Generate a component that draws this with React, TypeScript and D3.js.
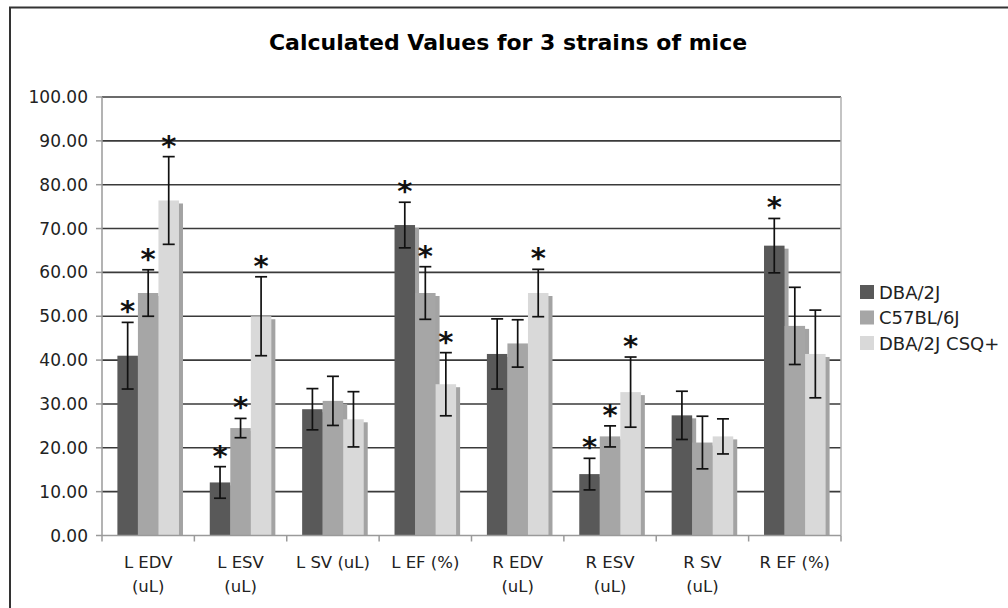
import React, { useEffect, useRef } from 'react';
import * as d3 from 'd3';

// categories and series
const categories = [
  ['L EDV', '(uL)'],
  ['L ESV', '(uL)'],
  ['L SV (uL)'],
  ['L EF (%)'],
  ['R EDV', '(uL)'],
  ['R ESV', '(uL)'],
  ['R SV', '(uL)'],
  ['R EF (%)'],
];
const seriesNames = ['DBA/2J', 'C57BL/6J', 'DBA/2J CSQ+'];

const dbaValues = [41.0, 12.1, 28.8, 70.8, 41.4, 14.0, 27.4, 66.1];
const dbaErrors = [7.6, 3.6, 4.7, 5.2, 8.0, 3.6, 5.5, 6.2];
const dbaSig = [true, true, false, true, false, true, false, true];

const c57Values = [55.3, 24.5, 30.7, 55.3, 43.8, 22.6, 21.2, 47.8];
const c57Errors = [5.3, 2.2, 5.6, 6.0, 5.4, 2.4, 6.0, 8.8];
const c57Sig = [true, true, false, true, false, true, false, false];

const csqValues = [76.4, 50.0, 26.5, 34.5, 55.3, 32.7, 22.6, 41.4];
const csqErrors = [10.0, 9.0, 6.3, 7.2, 5.4, 8.0, 4.0, 10.0];
const csqSig = [true, true, false, true, true, true, false, false];

const yTicks = [0, 10, 20, 30, 40, 50, 60, 70, 80, 90, 100];

const seriesValues = [dbaValues, c57Values, csqValues];
const seriesErrors = [dbaErrors, c57Errors, csqErrors];
const seriesSig = [dbaSig, c57Sig, csqSig];
const seriesColors = ['#595959', '#a6a6a6', '#d9d9d9'];

const FONT = "'DejaVu Sans', Verdana, sans-serif";

const App = () => {
  const svgRef = useRef<SVGSVGElement>(null);

  useEffect(() => {
    const svg = d3.select(svgRef.current);
    svg.selectAll('*').remove();

    const width = 1008;
    const height = 608;
    const plot = { left: 102, right: 841, top: 97, bottom: 535.5 };

    svg.attr('width', width).attr('height', height);

    // outer frame (only top and left show in the picture)
    svg.append('rect').attr('width', width).attr('height', height).attr('fill', '#fff');
    svg.append('path')
      .attr('d', `M10,${height} L10,7.5 L${width},7.5`)
      .attr('fill', 'none')
      .attr('stroke', '#333')
      .attr('stroke-width', 2);

    svg.append('text')
      .attr('x', 508)
      .attr('y', 50)
      .attr('text-anchor', 'middle')
      .style('font-family', FONT)
      .style('font-weight', 'bold')
      .style('font-size', '22px')
      .text('Calculated Values for 3 strains of mice');

    const names = categories.map((c) => c.join(' '));
    const x0 = d3.scaleBand().domain(names).range([plot.left, plot.right]);
    const bw = x0.bandwidth();
    const gap = (bw * 1.5) / 4.5;
    const x1 = d3
      .scaleBand()
      .domain(seriesNames)
      .range([gap / 2, bw - gap / 2]);
    const y = d3.scaleLinear().domain([0, 100]).range([plot.bottom, plot.top]);

    // gridlines
    svg.append('g')
      .selectAll('line')
      .data(yTicks.filter((t) => t > 0))
      .enter()
      .append('line')
      .attr('x1', plot.left)
      .attr('x2', plot.right)
      .attr('y1', (d) => y(d))
      .attr('y2', (d) => y(d))
      .attr('stroke', '#3a3a3a')
      .attr('stroke-width', 1.6);

    // right edge of plot area
    svg.append('line')
      .attr('x1', plot.right)
      .attr('x2', plot.right)
      .attr('y1', plot.top)
      .attr('y2', plot.bottom)
      .attr('stroke', '#b0b0b0')
      .attr('stroke-width', 1.5);

    // bars with their drop shadows
    seriesNames.forEach((s, si) => {
      const g = svg.append('g');
      const vals = seriesValues[si];
      g.selectAll('.shadow')
        .data(vals)
        .enter()
        .append('rect')
        .attr('x', (d, i) => x0(names[i])! + x1(s)! + 4)
        .attr('y', (d) => y(d) + 3)
        .attr('width', x1.bandwidth())
        .attr('height', (d) => plot.bottom - y(d) - 3)
        .attr('fill', '#a3a3a3');
      g.selectAll('.bar')
        .data(vals)
        .enter()
        .append('rect')
        .attr('x', (d, i) => x0(names[i])! + x1(s)!)
        .attr('y', (d) => y(d))
        .attr('width', x1.bandwidth())
        .attr('height', (d) => plot.bottom - y(d))
        .attr('fill', seriesColors[si]);
    });

    // error bars and significance stars
    seriesNames.forEach((s, si) => {
      const g = svg.append('g').attr('stroke', '#111').attr('stroke-width', 1.7);
      seriesValues[si].forEach((v, i) => {
        const cx = x0(names[i])! + x1(s)! + x1.bandwidth() / 2;
        const hi = y(v + seriesErrors[si][i]);
        const lo = y(v - seriesErrors[si][i]);
        g.append('line').attr('x1', cx).attr('x2', cx).attr('y1', hi).attr('y2', lo);
        g.append('line').attr('x1', cx - 6).attr('x2', cx + 6).attr('y1', hi).attr('y2', hi);
        g.append('line').attr('x1', cx - 6).attr('x2', cx + 6).attr('y1', lo).attr('y2', lo);
        if (seriesSig[si][i]) {
          svg.append('text')
            .attr('x', cx)
            .attr('y', hi - 1)
            .attr('text-anchor', 'middle')
            .style('font-family', FONT)
            .style('font-weight', 'bold')
            .style('font-size', '29px')
            .attr('fill', '#111')
            .text('*');
        }
      });
    });

    // left axis line
    svg.append('line')
      .attr('x1', plot.left)
      .attr('x2', plot.left)
      .attr('y1', plot.top)
      .attr('y2', plot.bottom)
      .attr('stroke', '#9a9a9a')
      .attr('stroke-width', 1.5);

    // y ticks and labels
    const yAxis = svg.append('g');
    yAxis.selectAll('line')
      .data(yTicks)
      .enter()
      .append('line')
      .attr('x1', plot.left - 6)
      .attr('x2', plot.left)
      .attr('y1', (d) => y(d))
      .attr('y2', (d) => y(d))
      .attr('stroke', '#9a9a9a')
      .attr('stroke-width', 1.5);
    yAxis.selectAll('text')
      .data(yTicks)
      .enter()
      .append('text')
      .attr('x', 88)
      .attr('y', (d) => y(d) + 6)
      .attr('text-anchor', 'end')
      .style('font-family', FONT)
      .style('font-size', '17px')
      .attr('fill', '#222')
      .text((d) => d3.format('.2f')(d));

    // x axis
    const xAxis = svg.append('g');
    xAxis.append('line')
      .attr('x1', plot.left)
      .attr('x2', plot.right)
      .attr('y1', plot.bottom)
      .attr('y2', plot.bottom)
      .attr('stroke', '#9a9a9a')
      .attr('stroke-width', 1.5);
    xAxis.selectAll('.tick')
      .data(names.concat(['end']))
      .enter()
      .append('line')
      .attr('x1', (d, i) => plot.left + i * bw)
      .attr('x2', (d, i) => plot.left + i * bw)
      .attr('y1', plot.bottom)
      .attr('y2', plot.bottom + 6)
      .attr('stroke', '#9a9a9a')
      .attr('stroke-width', 1.5);
    categories.forEach((lines, i) => {
      const t = xAxis.append('text')
        .attr('text-anchor', 'middle')
        .style('font-family', FONT)
        .style('font-size', '16.5px')
        .attr('fill', '#222');
      lines.forEach((ln, li) => {
        t.append('tspan')
          .attr('x', x0(names[i])! + bw / 2)
          .attr('y', 568 + li * 24)
          .text(ln);
      });
    });

    // legend
    const legend = svg.append('g');
    seriesNames.forEach((s, si) => {
      const ly = 292 + si * 25.5;
      legend.append('rect')
        .attr('x', 860)
        .attr('y', ly - 7)
        .attr('width', 14)
        .attr('height', 14)
        .attr('fill', seriesColors[si]);
      legend.append('text')
        .attr('x', 879)
        .attr('y', ly + 6.5)
        .style('font-family', FONT)
        .style('font-size', '18px')
        .attr('fill', '#222')
        .text(s);
    });
  }, []);

  return (
    <div style={{ position: 'absolute', left: 0, top: 0 }}>
      <svg ref={svgRef} style={{ display: 'block' }}></svg>
    </div>
  );
};

export default App;
